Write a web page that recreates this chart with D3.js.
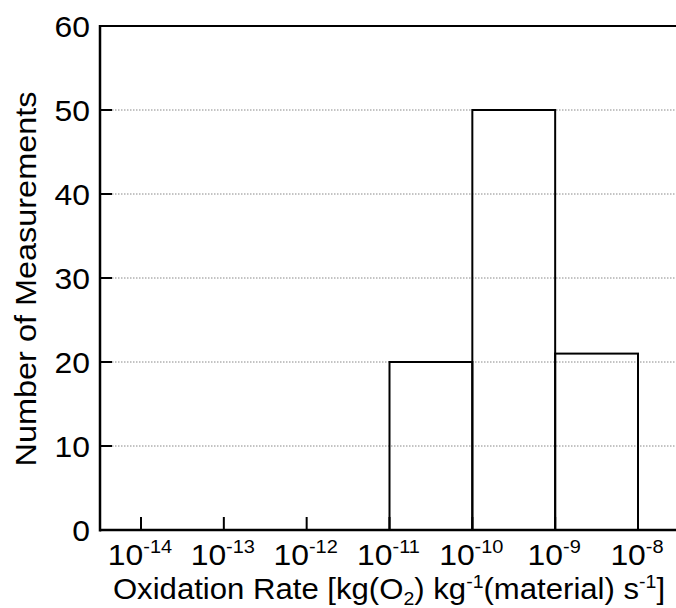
<!DOCTYPE html>
<html><head><meta charset="utf-8">
<script src="https://cdn.jsdelivr.net/npm/d3@7"></script>
<style>body{margin:0;background:#fff}svg text{font-family:"Liberation Sans",Arial,sans-serif;fill:#000}</style>
</head><body>
<svg id="c" width="676" height="608"></svg>
<script>
const binStart = [1e-11, 1e-10, 1e-9];
const binEnd = [1e-10, 1e-9, 1e-8];
const counts = [20, 50, 21];
const xTickExps = [-14, -13, -12, -11, -10, -9, -8];
const yTicks = [0, 10, 20, 30, 40, 50, 60];

const svg = d3.select("#c");
const x = d3.scaleLog().domain([1e-14, 1e-8]).range([141, 638]);
const y = d3.scaleLinear().domain([0, 60]).range([530, 26]);
const left = 100, right = 676;
const FS = 29.5, SX = 1.08, SUP = 18.5;

// gridlines
svg.append("g").selectAll("line").data(yTicks.filter(d => d > 0 && d < 60)).join("line")
  .attr("x1", left + 12).attr("x2", right).attr("y1", d => y(d)).attr("y2", d => y(d))
  .attr("stroke", "#888").attr("stroke-width", 1).attr("stroke-dasharray", "1.5,1.5");

// bars
svg.append("g").selectAll("rect").data(counts).join("rect")
  .attr("x", (d, i) => x(binStart[i])).attr("width", (d, i) => x(binEnd[i]) - x(binStart[i]))
  .attr("y", d => y(d)).attr("height", d => y(0) - y(d))
  .attr("fill", "none").attr("stroke", "#000").attr("stroke-width", 2);

// axes lines
svg.append("line").attr("x1", left).attr("x2", left).attr("y1", y(60) - 1).attr("y2", y(0) + 1.5)
  .attr("stroke", "#000").attr("stroke-width", 2.5);
svg.append("line").attr("x1", left).attr("x2", right).attr("y1", y(0)).attr("y2", y(0))
  .attr("stroke", "#000").attr("stroke-width", 2.5);
svg.append("line").attr("x1", left).attr("x2", right).attr("y1", y(60)).attr("y2", y(60))
  .attr("stroke", "#000").attr("stroke-width", 2);

// y ticks
const yt = svg.append("g").selectAll("g").data(yTicks).join("g");
yt.append("line").attr("x1", left).attr("x2", left + 12).attr("y1", d => y(d)).attr("y2", d => y(d))
  .attr("stroke", "#000").attr("stroke-width", 2);
yt.append("g").attr("transform", d => `translate(90,${y(d) + 10.5})`)
  .append("text").attr("transform", `scale(${SX},1)`)
  .attr("text-anchor", "end").attr("font-size", FS).text(d => d);

// x ticks
const xt = svg.append("g").selectAll("g").data(xTickExps).join("g");
xt.append("line").attr("x1", d => x(Math.pow(10, d))).attr("x2", d => x(Math.pow(10, d)))
  .attr("y1", y(0)).attr("y2", y(0) - 13).attr("stroke", "#000").attr("stroke-width", 2);
const xl = xt.append("g").attr("transform", d => `translate(${x(Math.pow(10, d)) - 1},565)`)
  .append("text").attr("transform", `scale(${SX},1)`)
  .attr("text-anchor", "middle").attr("font-size", FS);
xl.append("tspan").text("10");
xl.append("tspan").attr("dy", -12).attr("font-size", SUP).text(d => d);

// x title
const xtitle = svg.append("g").attr("transform", "translate(389,599)")
  .append("text").attr("transform", "scale(1.055,1)").attr("text-anchor", "middle").attr("font-size", FS);
xtitle.append("tspan").text("Oxidation Rate [kg(O");
xtitle.append("tspan").attr("dy", 6).attr("font-size", SUP).text("2");
xtitle.append("tspan").attr("dy", -6).text(") kg");
xtitle.append("tspan").attr("dy", -11).attr("font-size", SUP).text("-1");
xtitle.append("tspan").attr("dy", 11).text("(material) s");
xtitle.append("tspan").attr("dy", -11).attr("font-size", SUP).text("-1");
xtitle.append("tspan").attr("dy", 11).text("]");

// y title
svg.append("g").attr("transform", "translate(36,279) rotate(-90)")
  .append("text").attr("transform", "scale(1.1,1)")
  .attr("text-anchor", "middle").attr("font-size", 29.5).text("Number of Measurements");
</script>
</body></html>
